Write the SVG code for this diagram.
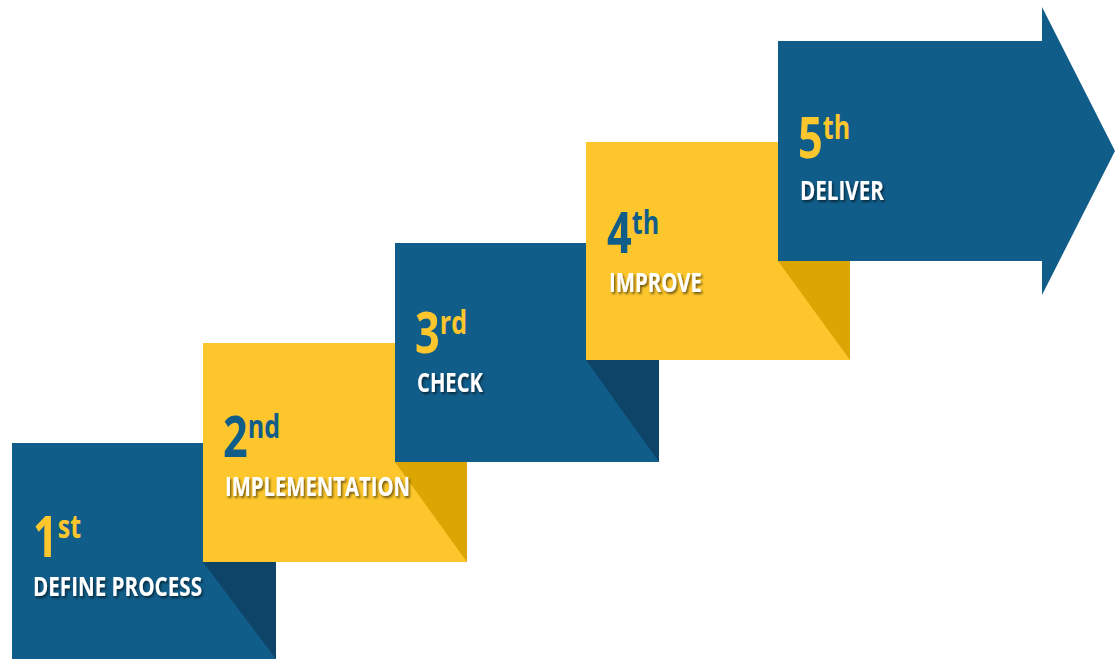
<svg xmlns="http://www.w3.org/2000/svg" width="1115" height="659" viewBox="0 0 1115 659">
<defs>
<filter id="ts" x="-10%" y="-30%" width="130%" height="180%">
<feDropShadow dx="1.5" dy="2" stdDeviation="1" flood-color="#000" flood-opacity="0.55"/>
</filter>
</defs>
<style>
.blue{fill:#115D89}
.dblue{fill:#0D4467}
.yel{fill:#FCC62C}
.dyel{fill:#DBA504}
.num{font-family:"Open Sans","Liberation Sans",sans-serif;font-weight:700;font-size:57px}
.sup{font-size:33px}
.lbl{font-family:"Open Sans","Liberation Sans",sans-serif;font-weight:700;font-size:26px;fill:#fff;filter:url(#ts)}
.ty{fill:#FCC62C}
.tb{fill:#115D89}
</style>
<rect width="1115" height="659" fill="#fff"/>
<g id="step1">
<rect class="blue" x="12" y="443" width="264" height="216"/>
<polygon class="dblue" points="203,562 276,562 276,659"/>
<text class="num ty" transform="translate(33,557) scale(0.76,1)">1<tspan class="sup" dy="-19">st</tspan></text>
<text class="lbl" x="33" y="596" textLength="169" lengthAdjust="spacingAndGlyphs">DEFINE PROCESS</text>
</g>
<g id="step2">
<rect class="yel" x="203" y="343" width="264" height="219"/>
<polygon class="dyel" points="395,462 467,462 467,562"/>
<text class="num tb" transform="translate(223,457) scale(0.76,1)">2<tspan class="sup" dy="-19">nd</tspan></text>
<text class="lbl" x="225" y="496" textLength="185" lengthAdjust="spacingAndGlyphs">IMPLEMENTATION</text>
</g>
<g id="step3">
<rect class="blue" x="395" y="243" width="264" height="219"/>
<polygon class="dblue" points="586,360 659,360 659,462"/>
<text class="num ty" transform="translate(415,353) scale(0.76,1)">3<tspan class="sup" dy="-19">rd</tspan></text>
<text class="lbl" x="417" y="392" textLength="66" lengthAdjust="spacingAndGlyphs">CHECK</text>
</g>
<g id="step4">
<rect class="yel" x="586" y="142" width="264" height="218"/>
<polygon class="dyel" points="778,261 850,261 850,360"/>
<text class="num tb" transform="translate(607,253) scale(0.76,1)">4<tspan class="sup" dy="-19">th</tspan></text>
<text class="lbl" x="609" y="292" textLength="93" lengthAdjust="spacingAndGlyphs">IMPROVE</text>
</g>
<g id="step5">
<path class="blue" d="M778,41 H1042 V7 L1115,151 L1042,295 V261 H778 Z"/>
<text class="num ty" transform="translate(798,158) scale(0.76,1)">5<tspan class="sup" dy="-19">th</tspan></text>
<text class="lbl" x="800" y="200" textLength="84" lengthAdjust="spacingAndGlyphs">DELIVER</text>
</g>
<g id="connectors"/>
</svg>
